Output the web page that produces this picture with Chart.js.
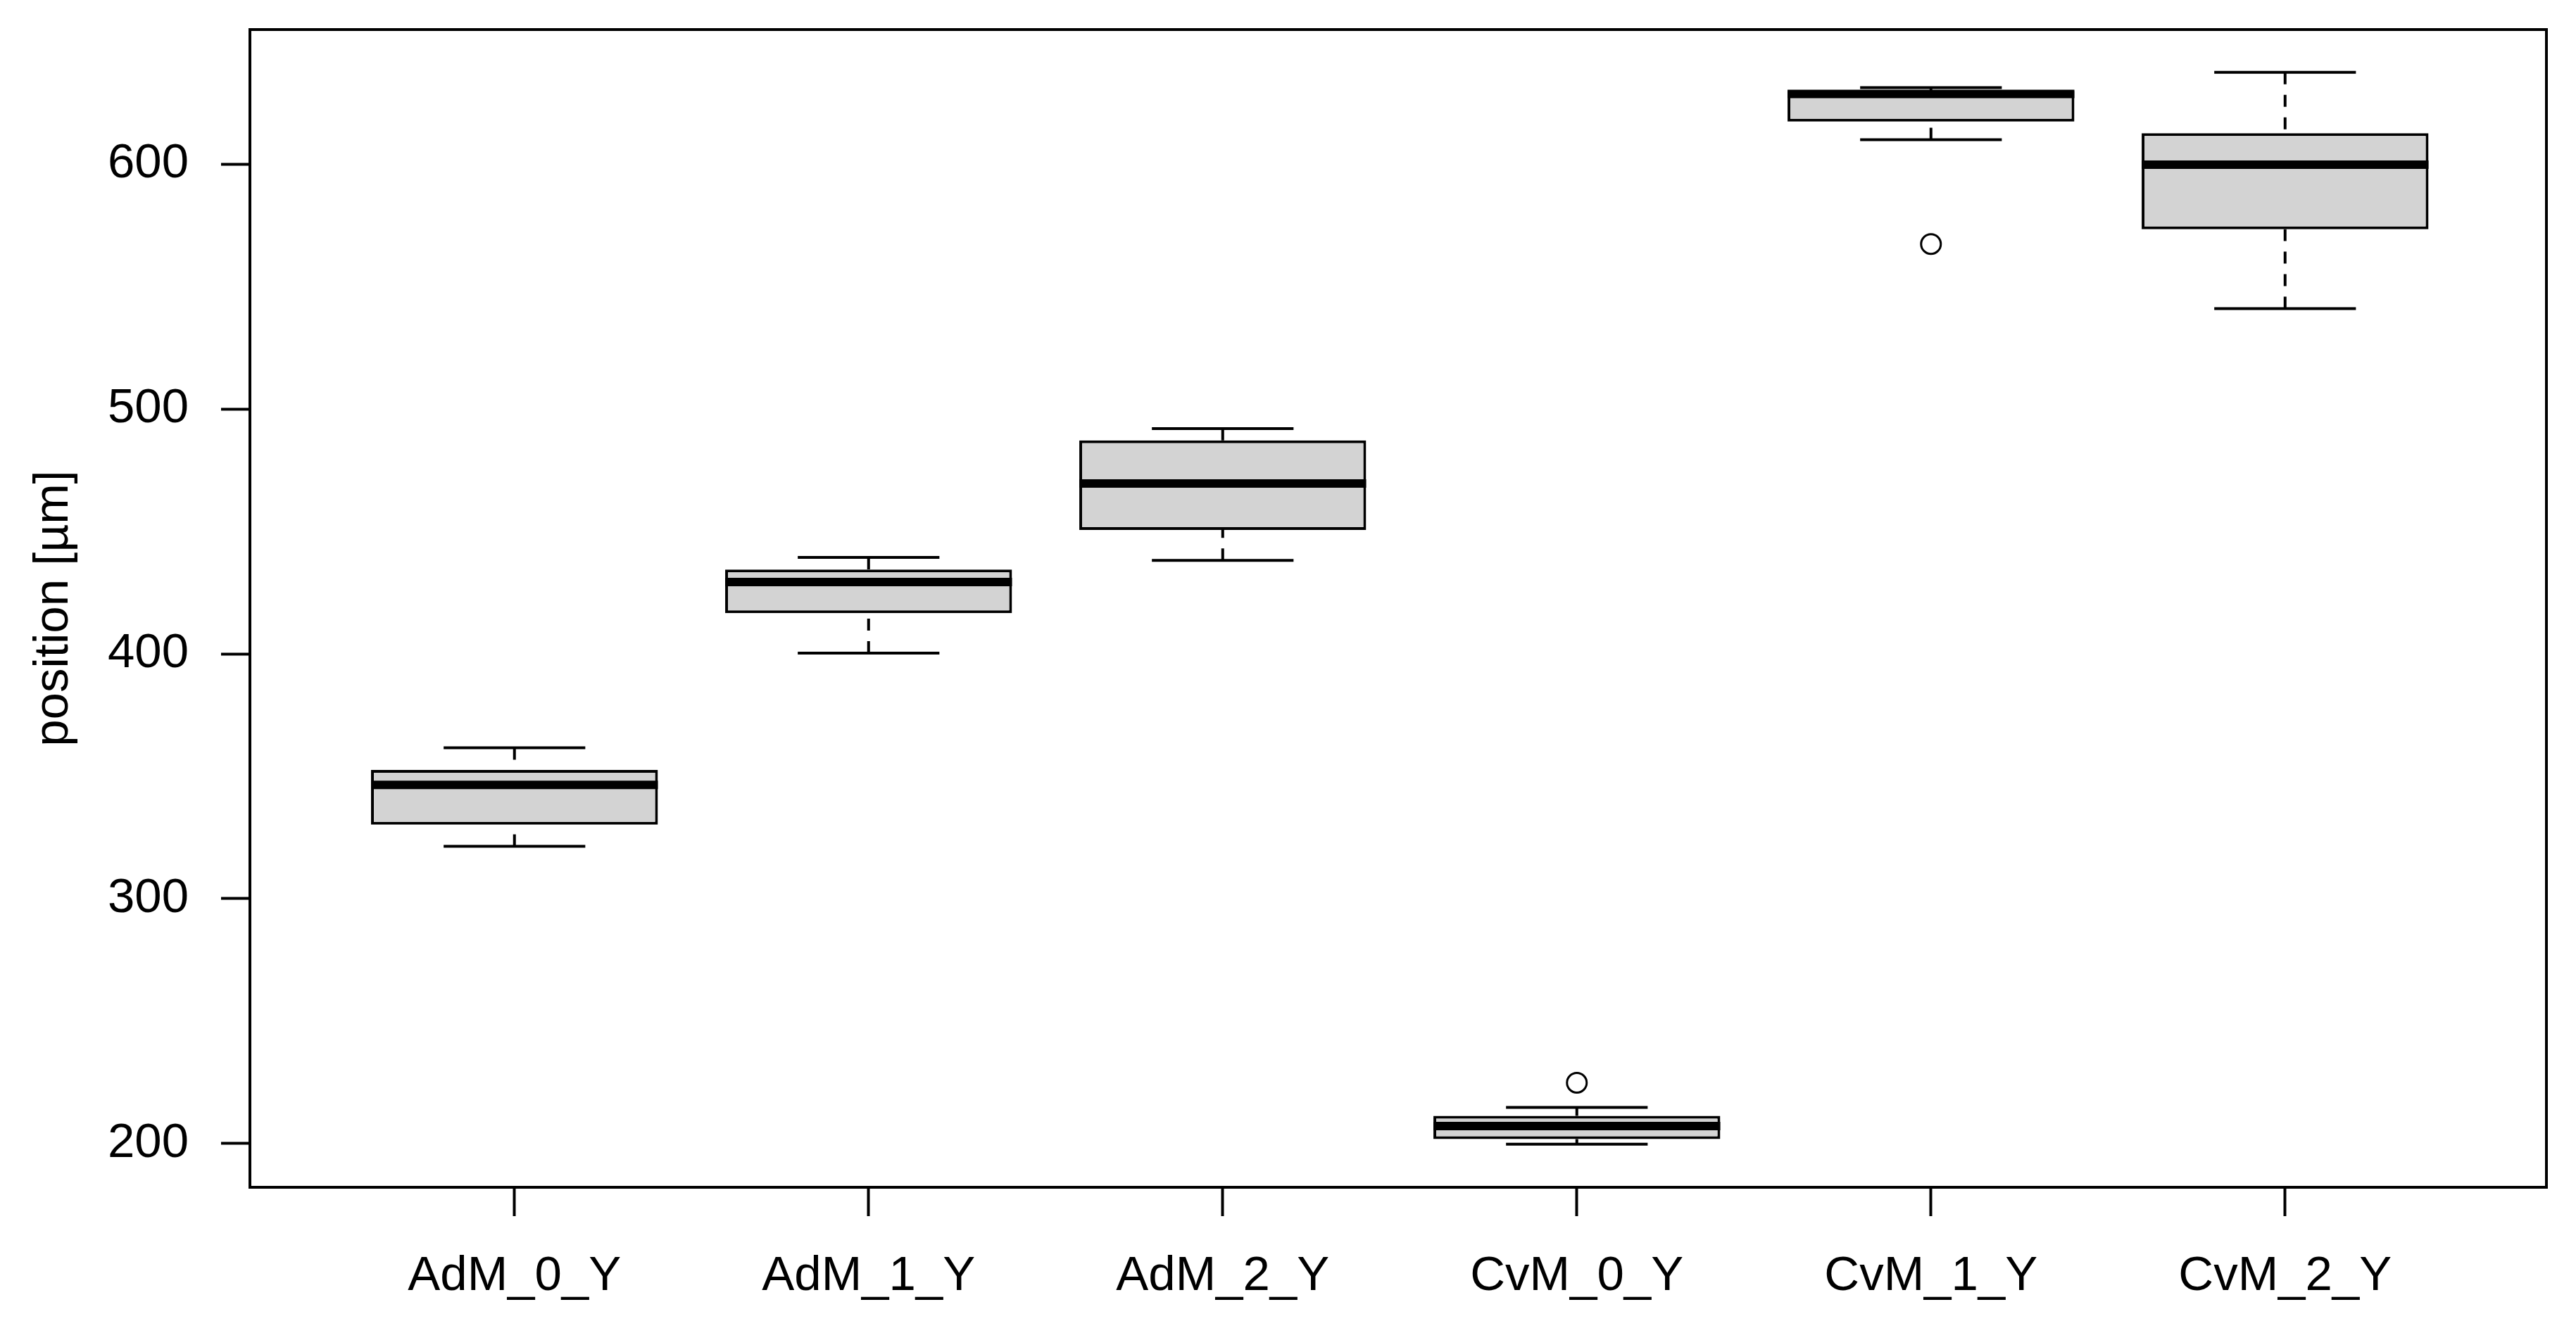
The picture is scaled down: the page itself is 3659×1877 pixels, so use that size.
<!DOCTYPE html>
<html>
<head>
<meta charset="utf-8">
<title>position boxplot</title>
<script src="https://cdn.jsdelivr.net/npm/chart.js@4.4.0/dist/chart.umd.min.js"></script>
<style>
  html, body { margin: 0; padding: 0; background: #fff; }
  #wrap { width: 3659px; height: 1877px; }
</style>
</head>
<body>
<div id="wrap"><canvas id="boxChart"></canvas></div>
<script>
// data
var categories  = ["AdM_0_Y", "AdM_1_Y", "AdM_2_Y", "CvM_0_Y", "CvM_1_Y", "CvM_2_Y"];
var whiskerLow  = [321.4, 400.3, 438.2, 199.7, 610.0, 541.0];
var q1          = [330.2, 416.6, 450.6, 201.8, 617.4, 573.4];
var median      = [346.5, 429.3, 469.6, 207.1, 628.7, 599.8];
var q3          = [352.6, 434.4, 487.2, 211.3, 629.9, 612.7];
var whiskerHigh = [361.6, 439.4, 492.0, 214.7, 631.3, 637.5];
var outlierGroup = [4, 5];
var outlierValue = [224.8, 567.4];
var yTicks = [200, 300, 400, 500, 600];

(function (window, document, undefined) {
	"use strict";

	var FONT = "'Liberation Sans', Arial, sans-serif";

	var boxData = categories.map(function (c, i) {
		return { x: i + 1, y: [q1[i], q3[i]] };
	});
	var outlierData = outlierGroup.map(function (g, i) {
		return { x: g, y: outlierValue[i] };
	});

	// medians, whiskers and caps, drawn with the chart's scales
	var boxExtras = {
		id: 'boxExtras',
		afterDatasetsDraw: function (chart) {
			var ctx = chart.ctx;
			var xs = chart.scales.x, ys = chart.scales.y;
			var unit = xs.getPixelForValue(1) - xs.getPixelForValue(0);
			ctx.save();
			ctx.strokeStyle = '#000';
			ctx.lineCap = 'butt';
			for (var i = 0; i < categories.length; i++) {
				var cx = xs.getPixelForValue(i + 1);
				// whiskers (dashed, from cap towards box)
				ctx.lineWidth = 4;
				ctx.setLineDash([17, 15]);
				ctx.beginPath();
				ctx.moveTo(cx, ys.getPixelForValue(whiskerLow[i]));
				ctx.lineTo(cx, ys.getPixelForValue(q1[i]));
				ctx.moveTo(cx, ys.getPixelForValue(whiskerHigh[i]));
				ctx.lineTo(cx, ys.getPixelForValue(q3[i]));
				ctx.stroke();
				// caps
				ctx.setLineDash([]);
				ctx.beginPath();
				ctx.moveTo(cx - unit * 0.2, ys.getPixelForValue(whiskerLow[i]));
				ctx.lineTo(cx + unit * 0.2, ys.getPixelForValue(whiskerLow[i]));
				ctx.moveTo(cx - unit * 0.2, ys.getPixelForValue(whiskerHigh[i]));
				ctx.lineTo(cx + unit * 0.2, ys.getPixelForValue(whiskerHigh[i]));
				ctx.stroke();
				// median
				ctx.lineWidth = 12;
				ctx.beginPath();
				ctx.moveTo(cx - unit * 0.405, ys.getPixelForValue(median[i]));
				ctx.lineTo(cx + unit * 0.405, ys.getPixelForValue(median[i]));
				ctx.stroke();
			}
			ctx.restore();
		},
		afterDraw: function (chart) {
			var a = chart.chartArea, ctx = chart.ctx;
			ctx.save();
			ctx.strokeStyle = '#000';
			ctx.lineWidth = 4;
			ctx.strokeRect(a.left, a.top, a.right - a.left, a.bottom - a.top);
			ctx.restore();
		}
	};

	var ctx = document.getElementById('boxChart').getContext('2d');
	var myChart = new Chart(ctx, {
		type: 'bar',
		data: {
			datasets: [{
				label: 'box',
				data: boxData,
				backgroundColor: '#D3D3D3',
				borderColor: '#000',
				borderWidth: 4,
				borderSkipped: false,
				categoryPercentage: 1.0,
				barPercentage: 0.81
			}, {
				type: 'scatter',
				label: 'outliers',
				data: outlierData,
				pointStyle: 'circle',
				pointRadius: 14,
				pointBorderWidth: 3,
				pointBackgroundColor: '#fff',
				pointBorderColor: '#000'
			}]
		},
		options: {
			responsive: true,
			maintainAspectRatio: false,
			devicePixelRatio: 1,
			animation: false,
			layout: { padding: { left: 0, top: 42, right: 42, bottom: 0 } },
			plugins: {
				legend: { display: false },
				tooltip: { enabled: false }
			},
			scales: {
				x: {
					type: 'linear',
					offset: false,
					min: 0.253,
					max: 6.738,
					afterBuildTicks: function (scale) {
						scale.ticks = categories.map(function (c, i) { return { value: i + 1 }; });
					},
					afterFit: function (scale) {
						scale.height = 190;
						scale.paddingLeft = 0;
						scale.paddingRight = 0;
					},
					ticks: {
						autoSkip: false,
						maxRotation: 0,
						padding: 45,
						color: '#000',
						font: { family: FONT, size: 69 },
						callback: function (value) { return categories[value - 1]; }
					},
					grid: {
						offset: false,
						drawOnChartArea: false,
						drawTicks: true,
						tickLength: 41,
						tickWidth: 4,
						tickColor: '#000'
					},
					border: { display: false }
				},
				y: {
					type: 'linear',
					min: 182.1,
					max: 655,
					afterBuildTicks: function (scale) {
						scale.ticks = yTicks.map(function (v) { return { value: v }; });
					},
					afterFit: function (scale) {
						scale.width = 355;
						scale.paddingTop = 0;
						scale.paddingBottom = 0;
					},
					title: {
						display: true,
						text: 'position [µm]',
						color: '#000',
						font: { family: FONT, size: 69 },
						padding: { top: 36, bottom: 0 }
					},
					ticks: {
						padding: 46,
						color: '#000',
						font: { family: FONT, size: 69 }
					},
					grid: {
						drawOnChartArea: false,
						drawTicks: true,
						tickLength: 41,
						tickWidth: 4,
						tickColor: '#000'
					},
					border: { display: false }
				}
			}
		},
		plugins: [boxExtras]
	});

})(window, document);
</script>
</body>
</html>
